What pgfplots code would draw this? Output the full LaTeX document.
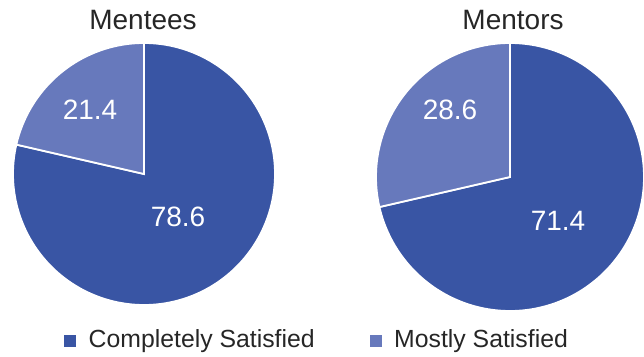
\documentclass[border=0pt]{standalone}
\usepackage{pgfplots}
\pgfplotsset{compat=1.18}
\usepackage{fontspec}
\setmainfont{Liberation Sans}
\definecolor{darkblue}{RGB}{57,85,164}
\definecolor{lightblue}{RGB}{103,121,188}
% data (percent)
\def\menteesComplete{78.6}
\def\menteesMostly{21.4}
\def\mentorsComplete{71.4}
\def\mentorsMostly{28.6}
\begin{document}
\begin{tikzpicture}
\useasboundingbox (0,0) rectangle (644pt,356pt);
\begin{axis}[
  at={(0,0)}, anchor=south west,
  width=644pt, height=356pt, scale only axis,
  xmin=0, xmax=644, ymin=0, ymax=356,
  hide axis, clip=false,
]
% Mentees pie: center (144,182), r=131
\pgfmathsetmacro{\aA}{90-3.6*\menteesComplete}
\pgfmathsetmacro{\aB}{90+3.6*\menteesMostly}
\addplot[fill=darkblue, draw=white, line width=1.8pt, domain=\aA:90, samples=160, variable=\t]
  ({144+131*cos(t)},{182+131*sin(t)}) -- (axis cs:144,182) -- cycle;
\addplot[fill=lightblue, draw=white, line width=1.8pt, domain=90:\aB, samples=80, variable=\t]
  ({144+131*cos(t)},{182+131*sin(t)}) -- (axis cs:144,182) -- cycle;
% Mentors pie: center (510,179), r=134
\pgfmathsetmacro{\bA}{90-3.6*\mentorsComplete}
\pgfmathsetmacro{\bB}{90+3.6*\mentorsMostly}
\addplot[fill=darkblue, draw=white, line width=1.8pt, domain=\bA:90, samples=160, variable=\t]
  ({510+134*cos(t)},{179+134*sin(t)}) -- (axis cs:510,179) -- cycle;
\addplot[fill=lightblue, draw=white, line width=1.8pt, domain=90:\bB, samples=80, variable=\t]
  ({510+134*cos(t)},{179+134*sin(t)}) -- (axis cs:510,179) -- cycle;
% titles
\node[anchor=base, font=\fontsize{28}{30}\selectfont, text=black!85] at (axis cs:143,326) {Mentees};
\node[anchor=base, font=\fontsize{28}{30}\selectfont, text=black!85] at (axis cs:513,326) {Mentors};
% slice labels
\node[anchor=base, font=\fontsize{28}{30}\selectfont, text=white] at (axis cs:90,236) {\menteesMostly};
\node[anchor=base, font=\fontsize{28}{30}\selectfont, text=white] at (axis cs:178,129) {\menteesComplete};
\node[anchor=base, font=\fontsize{28}{30}\selectfont, text=white] at (axis cs:450,236) {\mentorsMostly};
\node[anchor=base, font=\fontsize{28}{30}\selectfont, text=white] at (axis cs:558,125) {\mentorsComplete};
% legend
\fill[darkblue] (axis cs:64,9.5) rectangle (axis cs:76,21.5);
\node[anchor=base west, inner sep=0pt, font=\fontsize{24.8}{26}\selectfont, text=black!85] at (axis cs:88.5,9) {Completely Satisfied};
\fill[lightblue] (axis cs:370,9.5) rectangle (axis cs:382,21.5);
\node[anchor=base west, inner sep=0pt, font=\fontsize{24.8}{26}\selectfont, text=black!85] at (axis cs:394,9) {Mostly Satisfied};
\end{axis}
\end{tikzpicture}
\end{document}
